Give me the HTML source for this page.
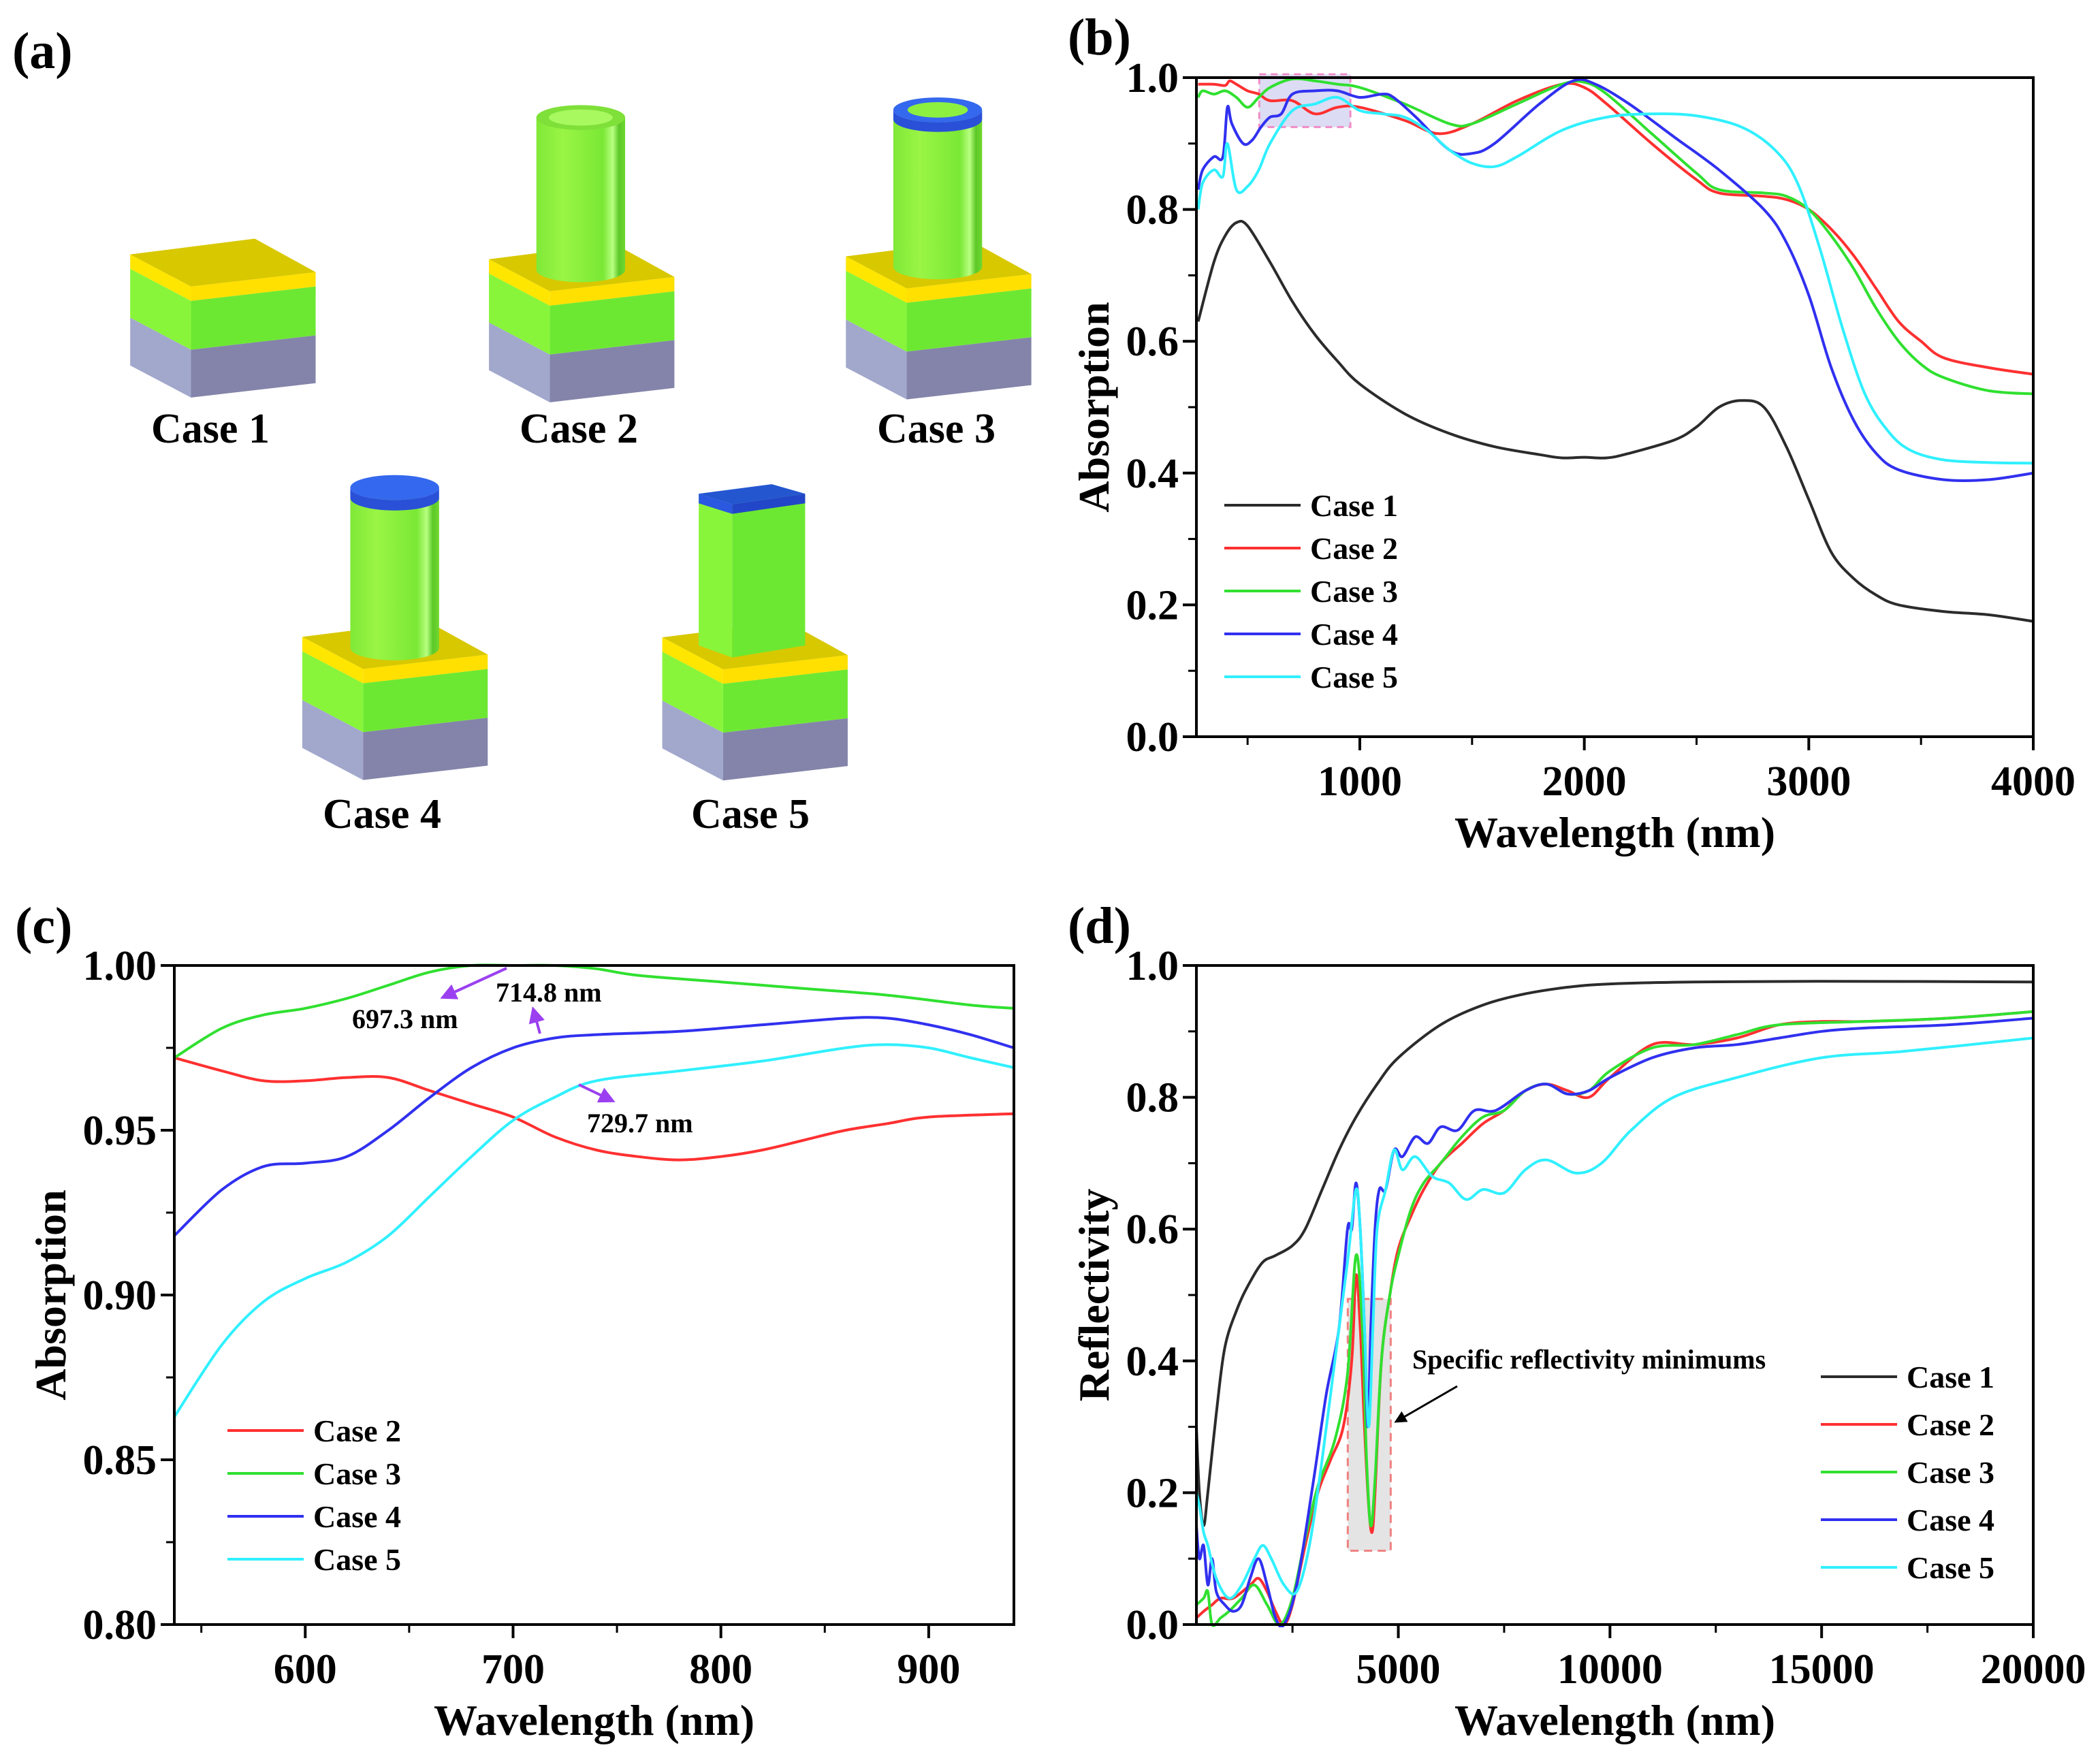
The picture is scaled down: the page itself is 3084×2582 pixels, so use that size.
<!DOCTYPE html>
<html><head><meta charset="utf-8">
<style>
html,body{margin:0;padding:0;background:#fff;}
svg{display:block;font-family:"Liberation Serif",serif;}
</style></head>
<body>
<svg id="fig" width="3084" height="2582" viewBox="0 0 3084 2582" xmlns="http://www.w3.org/2000/svg">
<rect width="3084" height="2582" fill="#fff"/>
<text x="18" y="100" font-size="76" font-weight="bold">(a)</text>
<text x="1568" y="80" font-size="76" font-weight="bold">(b)</text>
<text x="22" y="1385" font-size="76" font-weight="bold">(c)</text>
<text x="1568" y="1385" font-size="76" font-weight="bold">(d)</text>
<g id="panelA" transform="translate(151,122) scale(0.893,0.703)"></g>
<g id="panelALabels"></g>
<g id="chartB"></g>
<g id="chartC"></g>
<g id="chartD"></g>
</svg>
<script>
// ---------- Panel b data ----------
const bCase1X=[280,350,400,450,500,600,700,800,900,1000,1200,1400,1600,1800,1900,2000,2100,2200,2400,2500,2600,2700,2800,2900,3000,3100,3200,3300,3400,3600,3800,4000];
const bCase1Y=[0.63,0.72,0.76,0.78,0.775,0.72,0.66,0.61,0.57,0.535,0.49,0.46,0.44,0.428,0.423,0.424,0.423,0.43,0.45,0.47,0.5,0.51,0.5,0.44,0.36,0.28,0.24,0.215,0.2,0.19,0.185,0.175];
const bCase2X=[280,350,400,420,450,500,550,600,700,800,900,1000,1200,1350,1500,1700,1900,2000,2100,2300,2500,2600,2800,2900,3000,3100,3200,3300,3400,3500,3600,3800,4000];
const bCase2Y=[0.99,0.99,0.988,0.995,0.99,0.98,0.975,0.965,0.965,0.945,0.955,0.955,0.935,0.915,0.93,0.965,0.99,0.985,0.96,0.9,0.845,0.825,0.82,0.815,0.8,0.77,0.73,0.68,0.63,0.6,0.575,0.56,0.55];
const bCase3X=[280,300,350,400,450,500,550,600,700,800,900,1000,1200,1400,1500,1700,1900,2000,2100,2300,2500,2600,2800,2900,3000,3100,3200,3300,3400,3500,3600,3800,4000];
const bCase3Y=[0.97,0.98,0.975,0.98,0.97,0.955,0.97,0.985,0.998,0.995,0.99,0.985,0.96,0.93,0.93,0.96,0.99,0.993,0.975,0.915,0.855,0.83,0.825,0.82,0.8,0.76,0.71,0.65,0.6,0.565,0.545,0.525,0.52];
const bCase4X=[280,300,350,390,410,430,480,520,560,600,650,700,800,900,1000,1100,1150,1250,1400,1500,1600,1800,1950,2050,2200,2400,2600,2800,2900,3000,3100,3200,3300,3400,3600,3800,4000];
const bCase4Y=[0.83,0.86,0.88,0.88,0.955,0.93,0.9,0.905,0.925,0.94,0.945,0.975,0.98,0.98,0.97,0.975,0.97,0.94,0.89,0.885,0.9,0.96,0.995,0.99,0.96,0.91,0.86,0.8,0.75,0.67,0.56,0.48,0.43,0.405,0.39,0.39,0.4];
const bCase5X=[280,300,350,390,410,450,500,550,600,700,800,900,1000,1100,1200,1300,1400,1500,1600,1700,1900,2100,2300,2500,2700,2850,2950,3050,3150,3250,3350,3450,3600,3800,4000];
const bCase5Y=[0.8,0.84,0.86,0.85,0.9,0.83,0.835,0.86,0.9,0.95,0.96,0.97,0.95,0.945,0.94,0.92,0.89,0.87,0.865,0.88,0.92,0.94,0.945,0.942,0.925,0.89,0.84,0.74,0.62,0.52,0.465,0.435,0.42,0.416,0.415];
const bXTicks=[1000,2000,3000,4000];
const bYTicks=[0,0.2,0.4,0.6,0.8,1.0];
const bYTickLabels=["0.0","0.2","0.4","0.6","0.8","1.0"];

// ---------- Panel c data ----------
const cCase2X=[537,560,580,600,620,640,660,680,700,720,740,760,780,800,820,840,860,880,900,941];
const cCase2Y=[0.972,0.968,0.965,0.965,0.966,0.966,0.962,0.958,0.954,0.948,0.944,0.942,0.941,0.942,0.944,0.947,0.95,0.952,0.954,0.955];
const cCase3X=[537,560,580,600,620,640,660,680,700,720,740,760,800,840,880,920,941];
const cCase3Y=[0.972,0.981,0.985,0.987,0.99,0.994,0.998,1.0,1.0,1.0,0.999,0.997,0.995,0.993,0.991,0.988,0.987];
const cCase4X=[537,560,580,600,620,640,660,680,700,720,740,780,820,860,880,900,920,941];
const cCase4Y=[0.918,0.932,0.939,0.94,0.942,0.95,0.96,0.969,0.975,0.978,0.979,0.98,0.982,0.984,0.984,0.982,0.979,0.975];
const cCase5X=[537,560,580,600,620,640,660,680,700,720,740,780,820,860,880,900,920,941];
const cCase5Y=[0.863,0.885,0.898,0.905,0.91,0.918,0.93,0.942,0.953,0.96,0.965,0.968,0.971,0.975,0.976,0.975,0.972,0.969];
const cXTicks=[600,700,800,900];
const cYTicks=[0.80,0.85,0.90,0.95,1.00];
const cYTickLabels=["0.80","0.85","0.90","0.95","1.00"];

// ---------- Panel d data ----------
const dCase1X=[230,300,400,500,700,900,1200,1500,1800,2100,2500,2800,3200,3600,4000,4500,5000,6000,7000,8000,9000,10000,12000,15000,20000];
const dCase1Y=[0.3,0.2,0.15,0.2,0.32,0.42,0.48,0.52,0.55,0.56,0.575,0.6,0.66,0.72,0.77,0.82,0.86,0.91,0.94,0.957,0.967,0.972,0.975,0.976,0.975];
const dCase2X=[230,400,600,800,1100,1500,1700,1900,2100,2300,2500,2800,3100,3400,3700,3900,4000,4100,4200,4300,4380,4450,4600,4800,5000,5300,5600,6000,6500,7000,7500,8000,8500,9000,9500,10000,11000,12000,13000,14000,15000,16000,18000,20000];
const dCase2Y=[0.01,0.02,0.03,0.04,0.04,0.06,0.07,0.05,0.02,0.0,0.03,0.12,0.2,0.25,0.3,0.4,0.53,0.45,0.3,0.18,0.14,0.2,0.4,0.5,0.57,0.62,0.66,0.7,0.73,0.76,0.78,0.81,0.82,0.81,0.8,0.83,0.88,0.88,0.89,0.91,0.915,0.915,0.92,0.93];
const dCase3X=[230,400,500,600,800,1000,1300,1600,1900,2200,2500,2800,3100,3500,3800,4000,4150,4250,4350,4450,4600,4800,5000,5300,5600,6000,6500,7000,7500,8000,8500,9000,9500,10000,11000,12000,13000,14000,16000,18000,20000];
const dCase3Y=[0.03,0.04,0.05,0.0,0.01,0.02,0.04,0.06,0.03,0.0,0.04,0.13,0.21,0.28,0.38,0.56,0.45,0.25,0.15,0.22,0.4,0.5,0.56,0.63,0.67,0.7,0.74,0.77,0.78,0.81,0.82,0.805,0.81,0.84,0.875,0.88,0.895,0.91,0.915,0.92,0.93];
const dCase4X=[230,300,400,500,600,700,900,1100,1300,1500,1700,1900,2100,2300,2600,3000,3300,3600,3800,3900,4000,4100,4200,4280,4350,4450,4550,4700,4900,5100,5400,5700,6000,6400,6800,7300,8000,8500,9000,9500,10000,11000,12000,13000,14000,15000,16000,18000,20000];
const dCase4Y=[0.15,0.1,0.12,0.06,0.1,0.05,0.03,0.02,0.03,0.07,0.1,0.06,0.01,0.0,0.06,0.22,0.35,0.45,0.6,0.6,0.67,0.6,0.45,0.3,0.45,0.6,0.66,0.66,0.72,0.71,0.74,0.73,0.755,0.75,0.78,0.78,0.81,0.82,0.805,0.81,0.83,0.86,0.875,0.88,0.89,0.9,0.905,0.91,0.92];
const dCase5X=[230,300,400,500,700,1000,1300,1600,1800,2000,2300,2600,2900,3200,3500,3800,4000,4100,4200,4300,4400,4500,4700,4900,5100,5400,5800,6200,6600,7000,7500,8000,8500,9200,9800,10500,11500,13000,15000,17000,20000];
const dCase5Y=[0.2,0.18,0.14,0.12,0.07,0.04,0.06,0.1,0.12,0.1,0.06,0.05,0.12,0.25,0.4,0.55,0.66,0.6,0.45,0.3,0.45,0.6,0.66,0.72,0.69,0.71,0.68,0.67,0.645,0.66,0.655,0.69,0.705,0.685,0.7,0.75,0.8,0.83,0.86,0.87,0.89];
const dXTicks=[5000,10000,15000,20000];
const dYTicks=[0,0.2,0.4,0.6,0.8,1.0];
const dYTickLabels=["0.0","0.2","0.4","0.6","0.8","1.0"];

const COLORS={c1:"#2b2b2b",c2:"#ff3030",c3:"#30e030",c4:"#3030f0",c5:"#30f0ff"};
const NS="http://www.w3.org/2000/svg";
function mk(tag,attrs,parent){const e=document.createElementNS(NS,tag);for(const k in attrs)e.setAttribute(k,attrs[k]);if(parent)parent.appendChild(e);return e;}
function smooth(pts){let d="M"+pts[0][0].toFixed(1)+","+pts[0][1].toFixed(1);for(let i=0;i<pts.length-1;i++){const p0=pts[Math.max(0,i-1)],p1=pts[i],p2=pts[i+1],p3=pts[Math.min(pts.length-1,i+2)];const c1x=p1[0]+(p2[0]-p0[0])/6,c1y=p1[1]+(p2[1]-p0[1])/6,c2x=p2[0]-(p3[0]-p1[0])/6,c2y=p2[1]-(p3[1]-p1[1])/6;d+="C"+c1x.toFixed(1)+","+c1y.toFixed(1)+" "+c2x.toFixed(1)+","+c2y.toFixed(1)+" "+p2[0].toFixed(1)+","+p2[1].toFixed(1);}return d;}

function chart(g,o){
  const sx=v=>o.L+(v-o.x0)/(o.x1-o.x0)*(o.R-o.L);
  const sy=v=>o.B-(v-o.y0)/(o.y1-o.y0)*(o.B-o.T);
  if(o.pre)o.pre(g,sx,sy);
  const clipId="clip"+g.id;
  const cp=mk("clipPath",{id:clipId},g);mk("rect",{x:o.L,y:o.T-4,width:o.R-o.L,height:o.B-o.T+8},cp);
  const lg=mk("g",{"clip-path":"url(#"+clipId+")"},g);
  o.series.forEach(s=>{
    const pts=s.x.map((xv,i)=>[sx(xv),sy(s.y[i])]);
    const p=mk("path",{d:smooth(pts),fill:"none",stroke:s.c,"stroke-width":4,"stroke-linejoin":"round"},lg);
    
    
  });
  const ax=mk("rect",{x:o.L,y:o.T,width:o.R-o.L,height:o.B-o.T,fill:"none",stroke:"#000","stroke-width":4},g);
  
  
  for(let v=o.xm0;v<=o.x1+1e-9;v+=o.xmStep){if(v<o.x0)continue;const x=sx(v);mk("line",{x1:x,x2:x,y1:o.B,y2:o.B+12,stroke:"#000","stroke-width":3},g);}
  for(let v=o.y0;v<=o.y1+1e-9;v+=o.ymStep){const y=sy(v);mk("line",{x1:o.L,x2:o.L-12,y1:y,y2:y,stroke:"#000","stroke-width":3},g);}
  o.xt.forEach((v,i)=>{const x=sx(v);mk("line",{x1:x,x2:x,y1:o.B,y2:o.B+20,stroke:"#000","stroke-width":4},g);
    const t=mk("text",{x:x,y:o.B+86,"font-size":62,"font-weight":"bold","text-anchor":"middle"},g);t.textContent=String(v);
    
    });
  o.yt.forEach((v,i)=>{const y=sy(v);mk("line",{x1:o.L,x2:o.L-20,y1:y,y2:y,stroke:"#000","stroke-width":4},g);
    const t=mk("text",{x:o.L-26,y:y+21,"font-size":62,"font-weight":"bold","text-anchor":"end"},g);t.textContent=o.ytl[i];
    
    });
  const xl=mk("text",{x:(o.L+o.R)/2,y:o.B+162,"font-size":64,"font-weight":"bold","text-anchor":"middle"},g);xl.textContent="Wavelength (nm)";
  
  
  const yl=mk("text",{x:0,y:0,"font-size":64,"font-weight":"bold","text-anchor":"middle",transform:"translate("+o.ylx+","+((o.T+o.B)/2)+") rotate(-90)"},g);yl.textContent=o.yTitle;
  
  
  o.series.forEach((s,i)=>{const y=o.lg.y+i*o.lg.dy;
    const le=mk("g",{},g);
    
    
    mk("line",{x1:o.lg.x,x2:o.lg.x+112,y1:y,y2:y,stroke:s.c,"stroke-width":4},le);
    const t=mk("text",{x:o.lg.x+126,y:y+16,"font-size":46,"font-weight":"bold"},le);t.textContent=s.n;});
  if(o.post)o.post(g,sx,sy);
}

chart(document.getElementById("chartB"),{L:1757,R:2986,T:114,B:1082,x0:272,x1:4000,y0:0,y1:1,xm0:500,xmStep:500,ymStep:0.1,
  xt:bXTicks,yt:bYTicks,ytl:bYTickLabels,yTitle:"Absorption",ylx:1628,lg:{x:1798,y:742,dy:63},
  series:[{n:"Case 1",x:bCase1X,y:bCase1Y,c:COLORS.c1},{n:"Case 2",x:bCase2X,y:bCase2Y,c:COLORS.c2},{n:"Case 3",x:bCase3X,y:bCase3Y,c:COLORS.c3},{n:"Case 4",x:bCase4X,y:bCase4Y,c:COLORS.c4},{n:"Case 5",x:bCase5X,y:bCase5Y,c:COLORS.c5}],
  pre:(g,sx,sy)=>{const r=mk("rect",{x:sx(552),y:sy(1.005),width:sx(958)-sx(552),height:sy(0.925)-sy(1.005),fill:"#dcdcf4",stroke:"#f08cc8","stroke-width":3,"stroke-dasharray":"10,7"},g);
    
    }
});

chart(document.getElementById("chartC"),{L:256,R:1489,T:1418,B:2386,x0:537,x1:941,y0:0.8,y1:1.0,xm0:550,xmStep:50,ymStep:0.025,
  xt:cXTicks,yt:cYTicks,ytl:cYTickLabels,yTitle:"Absorption",ylx:96,lg:{x:334,y:2101,dy:63},
  series:[{n:"Case 2",x:cCase2X,y:cCase2Y,c:COLORS.c2},{n:"Case 3",x:cCase3X,y:cCase3Y,c:COLORS.c3},{n:"Case 4",x:cCase4X,y:cCase4Y,c:COLORS.c4},{n:"Case 5",x:cCase5X,y:cCase5Y,c:COLORS.c5}],
  post:(g)=>{
    const defs=mk("defs",{},g);const m=mk("marker",{id:"ah",markerWidth:6,markerHeight:6,refX:5,refY:3,orient:"auto"},defs);mk("path",{d:"M0,0 L6,3 L0,6 Z",fill:"#9b40f0"},m);
    [[744,1422,650,1465],[793,1518,783,1482],[850,1593,900,1617]].forEach(a=>{const l=mk("line",{x1:a[0],y1:a[1],x2:a[2],y2:a[3],stroke:"#9b40f0","stroke-width":4,"marker-end":"url(#ah)"},g);
      
      });
    [["697.3 nm",517,1510],["714.8 nm",728,1471],["729.7 nm",862,1663]].forEach(a=>{const t=mk("text",{x:a[1],y:a[2],"font-size":40,"font-weight":"bold"},g);t.textContent=a[0];
      
      });
  }
});

chart(document.getElementById("chartD"),{L:1757,R:2986,T:1418,B:2386,x0:230,x1:20000,y0:0,y1:1,xm0:2500,xmStep:2500,ymStep:0.1,
  xt:dXTicks,yt:dYTicks,ytl:dYTickLabels,yTitle:"Reflectivity",ylx:1628,lg:{x:2674,y:2022,dy:70},
  series:[{n:"Case 1",x:dCase1X,y:dCase1Y,c:COLORS.c1},{n:"Case 2",x:dCase2X,y:dCase2Y,c:COLORS.c2},{n:"Case 3",x:dCase3X,y:dCase3Y,c:COLORS.c3},{n:"Case 4",x:dCase4X,y:dCase4Y,c:COLORS.c4},{n:"Case 5",x:dCase5X,y:dCase5Y,c:COLORS.c5}],
  pre:(g,sx,sy)=>{const r=mk("rect",{x:sx(3806),y:sy(0.494),width:sx(4820)-sx(3806),height:sy(0.112)-sy(0.494),fill:"#e4e4e4",stroke:"#f08080","stroke-width":3,"stroke-dasharray":"12,8"},g);
    
    },
  post:(g)=>{
    const defs=mk("defs",{},g);const m=mk("marker",{id:"ah2",markerWidth:6,markerHeight:6,refX:5,refY:3,orient:"auto"},defs);mk("path",{d:"M0,0 L6,3 L0,6 Z",fill:"#000"},m);
    const l=mk("line",{x1:2140,y1:2036,x2:2050,y2:2088,stroke:"#000","stroke-width":3,"marker-end":"url(#ah2)"},g);
    
    
    const t=mk("text",{x:2074,y:2010,"font-size":40,"font-weight":"bold"},g);t.textContent="Specific reflectivity minimums";
    
    
  }
});

// ---------- Panel a: schematic blocks ----------
const A=document.getElementById("panelA");
function block(ax,ay,name){
  const g=mk("g",{transform:"translate("+ax+","+ay+")"},A);
  
  
  const F=[100,67],R=[305,37],B=[205,-33];
  const hY=30,hG=102,hS=100;
  const face=(x1,y1,x2,y2,t,h,c)=>mk("polygon",{points:`${x1},${y1+t} ${x2},${y2+t} ${x2},${y2+t+h} ${x1},${y1+t+h}`,fill:c},g);
  face(0,0,F[0],F[1],hY+hG,hS,"#a2a8cc");face(F[0],F[1],R[0],R[1],hY+hG,hS,"#8484aa");
  face(0,0,F[0],F[1],hY,hG,"#88f53a");face(F[0],F[1],R[0],R[1],hY,hG,"#6de832");
  face(0,0,F[0],F[1],0,hY,"#ffe600");face(F[0],F[1],R[0],R[1],0,hY,"#ffe000");
  mk("polygon",{points:`0,0 ${B[0]},${B[1]} ${R[0]},${R[1]} ${F[0]},${F[1]}`,fill:"#d8c800"},g);
  return g;
}
function cyl(g,cx,topY,botY,rx,cap){
  const ry=26;
  mk("path",{d:`M${cx-rx},${topY} L${cx-rx},${botY} A${rx},${ry} 0 0 0 ${cx+rx},${botY} L${cx+rx},${topY} Z`,fill:"url(#cg)"},g);
  if(cap==="ring"){mk("path",{d:`M${cx-rx},${topY} L${cx-rx},${topY-20} A${rx},${ry} 0 0 0 ${cx+rx},${topY-20} L${cx+rx},${topY} A${rx},${ry} 0 0 1 ${cx-rx},${topY}Z`,fill:"#2a50d8"},g);
    mk("ellipse",{cx:cx,cy:topY-20,rx:rx,ry:ry,fill:"#3468ee"},g);mk("ellipse",{cx:cx,cy:topY-20,rx:rx*0.68,ry:ry*0.62,fill:"#8cf040"},g);}
  else if(cap==="disc"){mk("path",{d:`M${cx-rx},${topY} L${cx-rx},${topY-22} A${rx},${ry} 0 0 0 ${cx+rx},${topY-22} L${cx+rx},${topY} A${rx},${ry} 0 0 1 ${cx-rx},${topY}Z`,fill:"#2a50d8"},g);
    mk("ellipse",{cx:cx,cy:topY-22,rx:rx,ry:ry,fill:"#3468ee"},g);}
  else{mk("ellipse",{cx:cx,cy:topY,rx:rx,ry:ry,fill:"#7ee038"},g);mk("ellipse",{cx:cx,cy:topY,rx:rx*0.72,ry:ry*0.65,fill:"#a8f860"},g);}
}
const defsA=mk("defs",{},A);const lgA=mk("linearGradient",{id:"cg",x1:"0",x2:"1",y1:"0",y2:"0"},defsA);
[[0,"#80e838"],[0.3,"#9af545"],[0.75,"#7ae835"],[0.86,"#b8ff80"],[0.93,"#5cc828"],[1,"#70d830"]].forEach(s=>mk("stop",{offset:s[0],"stop-color":s[1]},lgA));
let g1=block(45,358,"case-1-structure");
let g2=block(635,368,"case-2-structure");cyl(g2,151,-296,22,73,"none");
let g3=block(1222,362,"case-3-structure");cyl(g3,151,-286,22,73,"ring");
let g4=block(328,1157,"case-4-structure");cyl(g4,152,-290,23,73,"disc");
let g5=block(920,1158,"case-5-structure");
mk("polygon",{points:"60,-300 115,-278 115,42 60,17",fill:"#88f53a"},g5);
mk("polygon",{points:"115,-278 235,-300 235,17 115,42",fill:"#6de832"},g5);
mk("polygon",{points:"60,-300 115,-278 115,-258 60,-280",fill:"#2a58e0"},g5);
mk("polygon",{points:"115,-278 235,-300 235,-280 115,-258",fill:"#2246c8"},g5);
mk("polygon",{points:"60,-300 180,-320 235,-300 115,-278",fill:"#2456d0"},g5);
const AL=document.getElementById("panelALabels");
const labels=[["Case 1",309,650],["Case 2",850,650],["Case 3",1375,650],["Case 4",561,1216],["Case 5",1102,1216]];
labels.forEach(l=>{const t=mk("text",{x:l[1],y:l[2],"font-size":62,"font-weight":"bold","text-anchor":"middle"},AL);t.textContent=l[0];
  
  });
</script>
</body></html>
